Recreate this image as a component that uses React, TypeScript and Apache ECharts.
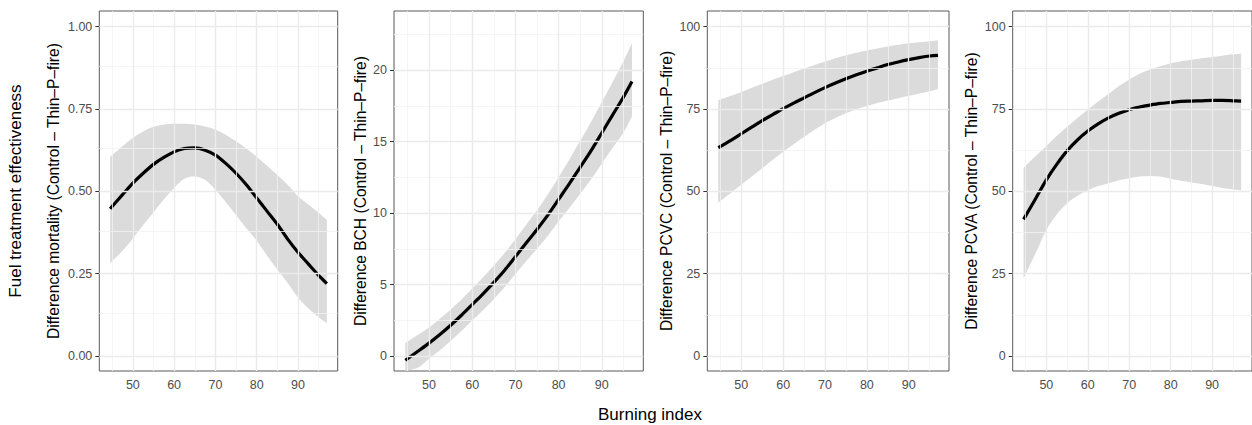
import React, { useEffect, useRef } from "react";
import * as echarts from "echarts";

const FONT = '"Liberation Sans", Arial, Helvetica, sans-serif';

// Burning index sample points
const xs = [44.5, 47.5, 50, 52.5, 55, 57.5, 60, 62.5, 65, 67.5, 70, 72.5, 75, 77.5, 80, 82.5, 85, 87.5, 90, 92.5, 95, 97];

// Panel 1: mortality
const mortFit = [0.447, 0.49, 0.525, 0.555, 0.582, 0.603, 0.62, 0.63, 0.632, 0.625, 0.61, 0.585, 0.555, 0.52, 0.48, 0.44, 0.4, 0.355, 0.315, 0.28, 0.245, 0.22];
const mortHi = [0.605, 0.637, 0.662, 0.682, 0.696, 0.703, 0.705, 0.705, 0.703, 0.697, 0.688, 0.672, 0.652, 0.63, 0.605, 0.578, 0.55, 0.52, 0.485, 0.46, 0.435, 0.413];
const mortLo = [0.282, 0.32, 0.357, 0.398, 0.436, 0.475, 0.51, 0.538, 0.545, 0.535, 0.505, 0.468, 0.428, 0.388, 0.35, 0.305, 0.262, 0.222, 0.178, 0.145, 0.118, 0.1];

// Panel 2: BCH
const bchFit = [-0.3, 0.35, 0.9, 1.5, 2.15, 2.85, 3.6, 4.35, 5.15, 6.0, 6.95, 7.9, 8.85, 9.85, 10.95, 12.05, 13.2, 14.35, 15.6, 16.85, 18.1, 19.2];
const bchHi = [0.9, 1.5, 2.0, 2.6, 3.25, 3.95, 4.72, 5.5, 6.33, 7.2, 8.17, 9.18, 10.2, 11.3, 12.5, 13.75, 15.05, 16.35, 17.75, 19.15, 20.6, 21.9];
const bchLo = [-1.5, -0.8, -0.2, 0.4, 1.05, 1.75, 2.48, 3.2, 3.97, 4.8, 5.73, 6.62, 7.5, 8.4, 9.4, 10.35, 11.35, 12.35, 13.45, 14.55, 15.6, 16.75];

// Panel 3: PCVC
const pcvcFit = [63.3, 65.5, 67.5, 69.5, 71.5, 73.3, 75.1, 76.8, 78.4, 80.0, 81.5, 82.9, 84.2, 85.4, 86.5, 87.5, 88.5, 89.3, 90.0, 90.6, 91.1, 91.3];
const pcvcHi = [77.7, 79.0, 80.2, 81.5, 82.7, 83.9, 85.0, 86.2, 87.3, 88.4, 89.4, 90.4, 91.3, 92.1, 92.8, 93.4, 94.0, 94.5, 95.0, 95.3, 95.6, 95.8];
const pcvcLo = [46.6, 49.5, 52.0, 54.5, 57.0, 59.6, 62.0, 64.3, 66.5, 68.7, 70.7, 72.3, 73.7, 74.9, 75.9, 76.8, 77.6, 78.3, 79.0, 79.7, 80.4, 81.0];

// Panel 4: PCVA
const pcvaFit = [41.5, 48.0, 53.5, 58.2, 62.3, 65.6, 68.3, 70.5, 72.3, 73.7, 74.8, 75.6, 76.2, 76.7, 77.0, 77.3, 77.4, 77.5, 77.6, 77.6, 77.5, 77.4];
const pcvaHi = [57.2, 60.8, 63.8, 66.8, 69.6, 72.3, 74.8, 77.3, 79.6, 82.0, 84.0, 85.7, 87.0, 88.0, 88.9, 89.5, 90.0, 90.4, 90.8, 91.2, 91.6, 91.9];
const pcvaLo = [23.6, 31.5, 38.3, 43.0, 46.4, 48.7, 50.3, 51.6, 52.5, 53.4, 54.0, 54.5, 54.7, 54.5, 53.8, 53.2, 52.7, 52.2, 51.6, 51.0, 50.6, 50.3];

// Axes
const xTicks = [50, 60, 70, 80, 90];
const xMinor = [45, 55, 65, 75, 85, 95];
const xLimits = [41.875, 99.625];
const mortTicks = [0, 0.25, 0.5, 0.75, 1];
const mortMinor = [0.125, 0.375, 0.625, 0.875];
const bchTicks = [0, 5, 10, 15, 20];
const bchMinor = [2.5, 7.5, 12.5, 17.5, 22.5];
const pctTicks = [0, 25, 50, 75, 100];
const pctMinor = [12.5, 37.5, 62.5, 87.5];

const panelTitles = [
  "Difference mortality (Control \u2013 Thin\u2013P\u2013fire)",
  "Difference BCH (Control \u2013 Thin\u2013P\u2013fire)",
  "Difference PCVC (Control \u2013 Thin\u2013P\u2013fire)",
  "Difference PCVA (Control \u2013 Thin\u2013P\u2013fire)",
];
const xTitle = "Burning index";
const outerTitle = "Fuel treatment effectiveness";

const panels = [
  { fit: mortFit, hi: mortHi, lo: mortLo, ticks: mortTicks, minor: mortMinor, min: -0.0455, max: 1.0477, dec: 2 },
  { fit: bchFit, hi: bchHi, lo: bchLo, ticks: bchTicks, minor: bchMinor, min: -1.05, max: 24.13, dec: 0 },
  { fit: pcvcFit, hi: pcvcHi, lo: pcvcLo, ticks: pctTicks, minor: pctMinor, min: -4.55, max: 104.77, dec: 0 },
  { fit: pcvaFit, hi: pcvaHi, lo: pcvaLo, ticks: pctTicks, minor: pctMinor, min: -4.55, max: 104.77, dec: 0 },
];

// Layout (pixels)
const gridLefts = [99.3, 394, 707.3, 1012.7];
const gridWidths = [238.4, 249.3, 241.7, 241.6];
const gridTop = 11;
const gridHeight = 360;
const titleXs = [53, 360.7, 666.7, 971.7];

// Catmull-Rom spline through screen points -> cubic bezier commands
function splineCmds(pts: number[][]): string {
  let d = "";
  for (let i = 0; i < pts.length - 1; i++) {
    const p0 = pts[i - 1] || pts[i];
    const p1 = pts[i];
    const p2 = pts[i + 1];
    const p3 = pts[i + 2] || pts[i + 1];
    const c1x = p1[0] + (p2[0] - p0[0]) / 6;
    const c1y = p1[1] + (p2[1] - p0[1]) / 6;
    const c2x = p2[0] - (p3[0] - p1[0]) / 6;
    const c2y = p2[1] - (p3[1] - p1[1]) / 6;
    d += ` C ${c1x} ${c1y} ${c2x} ${c2y} ${p2[0]} ${p2[1]}`;
  }
  return d;
}

export default function App() {
  const ref = useRef<HTMLDivElement>(null);
  useEffect(() => {
    if (!ref.current) return;
    const chart = echarts.init(ref.current, undefined, { renderer: "svg" });
    const majorStyle = { color: "#ebebeb", width: 1.4, type: "solid" };
    const minorStyle = { color: "#f3f3f3", width: 0.8, type: "solid" };
    const grids: any[] = [];
    const xAxes: any[] = [];
    const yAxes: any[] = [];
    const series: any[] = [];
    panels.forEach((p, i) => {
      grids.push({
        left: gridLefts[i],
        top: gridTop,
        width: gridWidths[i],
        height: gridHeight,
        show: true,
        borderColor: "#5a5a5a",
        borderWidth: 1,
        backgroundColor: "transparent",
        containLabel: false,
      });
      xAxes.push({
        type: "value",
        gridIndex: i,
        min: xLimits[0],
        max: xLimits[1],
        axisLine: { show: false },
        axisTick: { show: true, length: 4, lineStyle: { color: "#333" }, customValues: xTicks },
        axisLabel: { customValues: xTicks, fontSize: 12.5, color: "#4d4d4d", margin: 7, fontFamily: FONT },
        splitLine: { show: false },
      });
      yAxes.push({
        type: "value",
        gridIndex: i,
        min: p.min,
        max: p.max,
        axisLine: { show: false },
        axisTick: { show: true, length: 4, lineStyle: { color: "#333" }, customValues: p.ticks },
        axisLabel: {
          customValues: p.ticks,
          fontSize: 12.5,
          color: "#4d4d4d",
          margin: 7,
          fontFamily: FONT,
          formatter: (v: number) => v.toFixed(p.dec),
        },
        splitLine: { show: false },
      });
      const gridLines = [
        ...xMinor.map((v) => ({ xAxis: v, lineStyle: minorStyle })),
        ...p.minor.map((v) => ({ yAxis: v, lineStyle: minorStyle })),
        ...xTicks.map((v) => ({ xAxis: v, lineStyle: majorStyle })),
        ...p.ticks.map((v) => ({ yAxis: v, lineStyle: majorStyle })),
      ];
      // gridlines (invisible carrier series)
      series.push({
        type: "line",
        xAxisIndex: i,
        yAxisIndex: i,
        data: xs.map((x, j) => [x, p.fit[j]]),
        symbol: "none",
        lineStyle: { opacity: 0, width: 0 },
        z: 1,
        silent: true,
        markLine: {
          silent: true,
          symbol: ["none", "none"],
          label: { show: false },
          emphasis: { disabled: true },
          data: gridLines,
        },
      });
      // confidence ribbon
      series.push({
        type: "custom",
        xAxisIndex: i,
        yAxisIndex: i,
        z: 2,
        silent: true,
        clip: true,
        data: xs.map((x, j) => [x, p.lo[j], p.hi[j]]),
        encode: { x: 0, y: [1, 2] },
        renderItem: (params: any, api: any) => {
          if (params.dataIndex !== 0) return null;
          const cs = params.coordSys;
          const rect = { x: cs.x, y: cs.y, width: cs.width, height: cs.height };
          const upper = echarts.graphic.clipPointsByRect(
            xs.map((x, j) => api.coord([x, p.hi[j]])),
            rect
          );
          const lower = echarts.graphic.clipPointsByRect(
            xs.map((x, j) => api.coord([x, p.lo[j]])).reverse(),
            rect
          );
          const d =
            `M ${upper[0][0]} ${upper[0][1]}` +
            splineCmds(upper) +
            ` L ${lower[0][0]} ${lower[0][1]}` +
            splineCmds(lower) +
            " Z";
          return {
            type: "path",
            shape: { pathData: d },
            style: { fill: "#dbdbdb", stroke: "none" },
            silent: true,
          };
        },
      });
      // fitted line
      series.push({
        type: "line",
        xAxisIndex: i,
        yAxisIndex: i,
        data: xs.map((x, j) => [x, p.fit[j]]),
        symbol: "none",
        smooth: 0.3,
        lineStyle: { color: "#000", width: 3.2 },
        z: 3,
        silent: true,
      });
    });
    const textStyle = (text: string, size: number) => ({
      text,
      fontSize: size,
      fontFamily: FONT,
      fill: "#000",
      align: "center",
      verticalAlign: "middle",
      textAlign: "center",
      textVerticalAlign: "middle",
    });
    const graphic: any[] = [
      { type: "text", x: 15, y: 191, rotation: Math.PI / 2, style: textStyle(outerTitle, 17) },
      { type: "text", x: 650, y: 414, style: textStyle(xTitle, 17) },
      ...panelTitles.map((t, i) => ({
        type: "text",
        x: titleXs[i],
        y: 191,
        rotation: Math.PI / 2,
        style: textStyle(t, 15.6),
      })),
    ];
    chart.setOption({
      animation: false,
      backgroundColor: "#fff",
      grid: grids,
      xAxis: xAxes,
      yAxis: yAxes,
      series,
      graphic,
    });
    return () => chart.dispose();
  }, []);
  return (
    <div
      ref={ref}
      style={{ position: "fixed", left: 0, top: 0, width: 1252, height: 425, background: "#fff" }}
    />
  );
}
